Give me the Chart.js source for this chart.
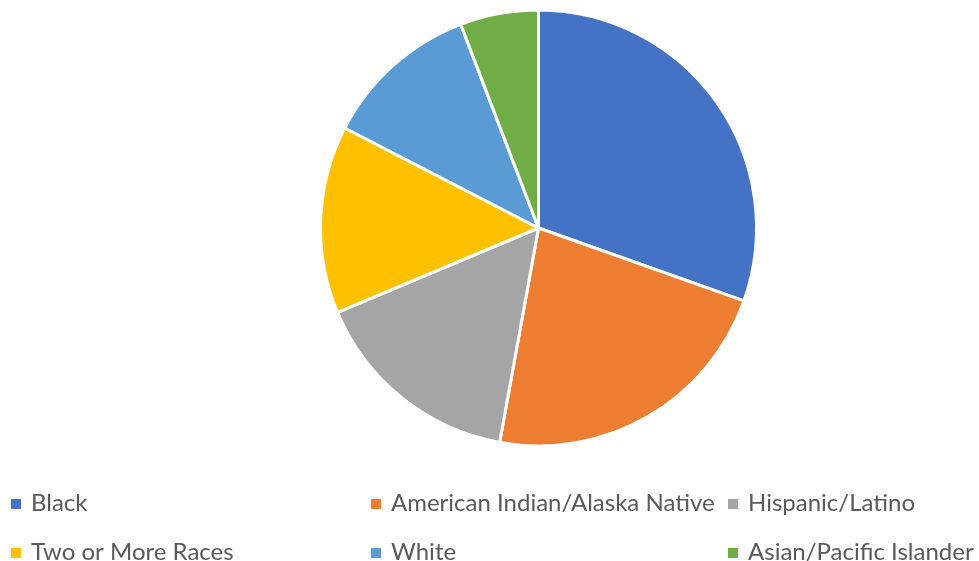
<!DOCTYPE html>
<html>
<head>
<meta charset="utf-8">
<script src="https://cdn.jsdelivr.net/npm/chart.js@4/dist/chart.umd.min.js"></script>
<style>
  html, body { margin: 0; padding: 0; background: #fff; }
  #wrap { position: relative; width: 979px; height: 561px; }
</style>
</head>
<body>
<div id="wrap"><canvas id="pie" width="979" height="561"></canvas></div>
<script>
// data (share of the total, %)
const groups = ['Black', 'American Indian/Alaska Native', 'Hispanic/Latino',
                'Two or More Races', 'White', 'Asian/Pacific Islander']
const shares = [30.4, 22.4, 15.8, 13.9, 11.6, 5.8]
const colors = ['#4472C4', '#ED7D31', '#A5A5A5', '#FFC000', '#5B9BD5', '#70AD47']

// legend laid out like the office chart: 3 columns, 2 rows
const legendCols = [11, 371, 728]
const legendRows = [511, 560]

const legendPlugin = {
    id: 'gridLegend',
    afterDraw(chart) {
        let ctx = chart.ctx
        ctx.save()
        ctx.font = '24px Lato, "Liberation Sans", sans-serif'
        ctx.textBaseline = 'alphabetic'
        groups.forEach(function (name, i) {
            let x = legendCols[i % 3]
            let y = legendRows[Math.floor(i / 3)]
            ctx.fillStyle = colors[i]
            ctx.fillRect(x, y - 12, 10, 10)
            ctx.fillStyle = '#595959'
            ctx.fillText(name, x + 20, y)
        })
        ctx.restore()
    }
}

let ctx = document.getElementById('pie').getContext('2d')
let pieChart = new Chart(ctx, {
    type: 'pie',
    data: {
        labels: groups,
        datasets: [{
            data: shares,
            backgroundColor: colors,
            borderColor: '#ffffff',
            borderWidth: 3
        }]
    },
    options: {
        responsive: false,
        animation: false,
        events: [],
        layout: { padding: { left: 319, right: 221, top: 8.5, bottom: 113.5 } },
        plugins: {
            legend: { display: false },
            tooltip: { enabled: false }
        }
    },
    plugins: [legendPlugin]
})
</script>
</body>
</html>
